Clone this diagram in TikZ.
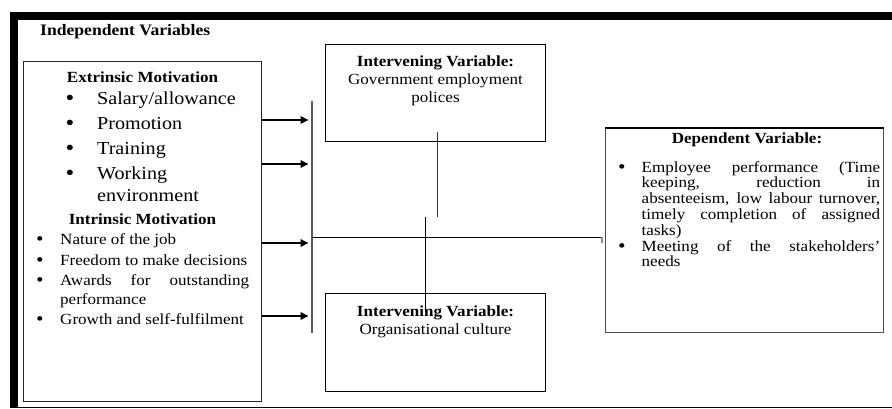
\documentclass[tikz,border=0pt]{standalone}
\usepackage{fontspec}
\setmainfont{Liberation Serif}[FakeStretch=1.1]
\usetikzlibrary{arrows.meta}
\begin{document}
\begin{tikzpicture}[x=1pt,y=1pt,
  txt/.style={inner sep=0pt, anchor=base west, font=\fontsize{15.5}{18}\selectfont},
  ctr/.style={inner sep=0pt, anchor=base, font=\fontsize{15.5}{18}\selectfont},
  bul/.style={inner sep=0pt, anchor=base, font=\fontsize{17}{18}\selectfont\bfseries},
  big/.style={inner sep=0pt, anchor=base west, font=\fontsize{18.3}{22}\selectfont},
  bigbul/.style={inner sep=0pt, anchor=base, font=\fontsize{20}{22}\selectfont\bfseries},
  hd/.style={inner sep=0pt, anchor=base, font=\fontsize{15.5}{18}\selectfont\bfseries},
  box/.style={draw=black!85, line width=0.9pt, inner sep=0pt, anchor=north west},
  arr/.style={line width=1.7pt, -{Triangle[length=8pt,width=7.5pt]}},
  link/.style={line width=1pt, black},
  bar/.style={line width=1.6pt, black!65}
]
\useasboundingbox (0,0) rectangle (892,-409);
% frame
\fill[black] (10,-12) rectangle (892,-20);
\fill[black] (10,-12) rectangle (18,-408);
\draw[line width=1.6pt] (10,-407.5) -- (892,-407.5);

\node[inner sep=0pt, anchor=base west, font=\fontsize{16}{18}\selectfont\bfseries] (title) at (40,-35.5) {Independent Variables};

% boxes
\node[box, minimum width=238pt, minimum height=340pt] (lbox) at (23,-61) {};
\node[box, draw=black, minimum width=220pt, minimum height=97pt] (gov) at (325,-44) {};
\node[box, draw=black, minimum width=220pt, minimum height=98pt] (org) at (325,-293) {};
\node[box, draw=black!70, minimum width=278pt, minimum height=204pt] (dep) at (605,-128) {};
\draw[line width=1.8pt] (dep.north west) -- (dep.north east);

% left box text
\node[hd] (ext) at (142.5,-83) {Extrinsic Motivation};
\node[bigbul] (b1) at (70,-105) {•};
\node[big] (e1) at (97,-105) {Salary/allowance};
\node[bigbul] (b2) at (70,-130) {•};
\node[big] (e2) at (97,-130) {Promotion};
\node[bigbul] (b3) at (70,-155) {•};
\node[big] (e3) at (97,-155) {Training};
\node[bigbul] (b4) at (70,-180) {•};
\node[big] (e4) at (97,-180) {Working};
\node[big] (e5) at (97,-201) {environment};

\node[hd] (int) at (142.5,-224) {Intrinsic Motivation};
\node[bul] (c1) at (40,-244.5) {•};
\node[txt] (i1) at (60,-244.5) {Nature of the job};
\node[bul] (c2) at (40,-265) {•};
\node[txt] (i2) at (60,-265) {Freedom to make decisions};
\node[bul] (c3) at (40,-285.5) {•};
\node[txt] (i3) at (60,-285.5) {\makebox[189pt][s]{Awards for outstanding}};
\node[txt] (i4) at (60,-304.5) {performance};
\node[bul] (c4) at (40,-324) {•};
\node[txt] (i5) at (60,-324) {Growth and self-fulfilment};

% intervening boxes text
\node[hd] (gh) at (435.5,-66.7) {Intervening Variable:};
\node[ctr] (g1) at (435.5,-85) {Government employment};
\node[ctr] (g2) at (435.5,-102.7) {polices};
\node[hd] (oh) at (435.5,-316.7) {Intervening Variable:};
\node[ctr] (o1) at (435.5,-334) {Organisational culture};

% dependent box text
\node[hd] (dh) at (747,-143.3) {Dependent Variable:};
\node[bul] (d0) at (622,-172.3) {•};
\node[txt] (d1) at (641.5,-172.3) {\makebox[238.5pt][s]{Employee performance (Time}};
\node[txt] (d2) at (641.5,-188) {\makebox[238.5pt][s]{keeping, reduction in}};
\node[txt] (d3) at (641.5,-203.7) {\makebox[238.5pt][s]{absenteeism, low labour turnover,}};
\node[txt] (d4) at (641.5,-219.4) {\makebox[238.5pt][s]{timely completion of assigned}};
\node[txt] (d5) at (641.5,-235) {tasks)};
\node[bul] (dd) at (622,-251) {•};
\node[txt] (d6) at (641.5,-251) {\makebox[238.5pt][s]{Meeting of the stakeholders’}};
\node[txt] (d7) at (641.5,-266.5) {needs};

% connector coordinates
\coordinate (bartop) at (312,-101);
\coordinate (barbot) at (312,-333);
\coordinate (t1) at (308.5,-120);
\coordinate (t2) at (308.5,-164);
\coordinate (t3) at (308.5,-243);
\coordinate (t4) at (308.5,-316);
\coordinate (hl) at (312,-237);
\coordinate (hr) at (602,-237);
\coordinate (hrt) at (602,-243);
\coordinate (gtop) at (437,-132);
\coordinate (gbot) at (437,-217);
\coordinate (otop) at (425,-217);
\coordinate (obot) at (425,-312);

\draw[bar] (bartop) -- (barbot);
\draw[arr] (lbox.east |- t1) -- (t1);
\draw[arr] (lbox.east |- t2) -- (t2);
\draw[arr] (lbox.east |- t3) -- (t3);
\draw[arr] (lbox.east |- t4) -- (t4);
\draw[link] (hl) -- (hr);
\draw[line width=1.5pt, black!45] (hr) -- (hrt);
\draw[link, black!80] (gtop) -- (gbot);
\draw[link] (otop) -- (obot);
\end{tikzpicture}
\end{document}
